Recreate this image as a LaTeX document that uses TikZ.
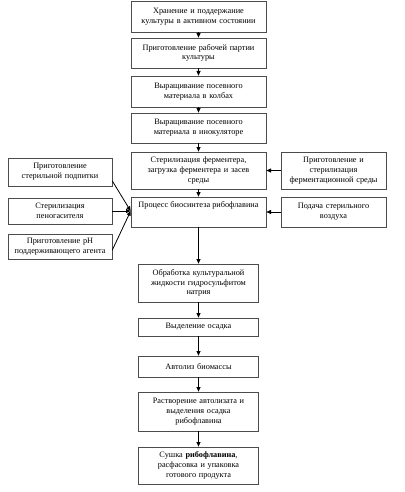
\documentclass[tikz,border=0pt]{standalone}
\usepackage{fontspec}
\setmainfont{Liberation Serif}
\usetikzlibrary{arrows.meta,calc}

\begin{document}
\begin{tikzpicture}[x=0.75pt,y=-0.75pt,
  box/.style 2 args={draw=black!70, line width=0.5pt, align=center,
    minimum width=#1*0.75pt, minimum height=#2*0.75pt, text width=#1*0.75pt-4pt,
    inner xsep=1pt, inner ysep=1pt, font=\fontsize{6.2}{7.3}\selectfont},
  arr/.style={-{Triangle[length=3.5pt,width=3pt]}, line width=0.6pt}]
\useasboundingbox (0,0) rectangle (404,492);

%Nodes
\node[box={135}{31}] (nodeKeep) at (198.5,16.5) {Хранение и поддержание\\культуры в активном состоянии};

\node[box={135}{30}] (nodeWork) at (198.5,53) {Приготовление рабочей партии\\культуры};

\node[box={135}{31}] (nodeFlask) at (198.5,91.5) {Выращивание посевного\\материала в колбах};

\node[box={135}{30}] (nodeInoc) at (198.5,128) {Выращивание посевного\\материала в инокуляторе};

\node[box={135}{37}] (nodeSteril) at (198.5,170.5) {Стерилизация ферментера,\\загрузка ферментера и засев\\среды};
\node[box={105}{37}] (nodeMedium) at (333.5,170.5) {Приготовление и\\стерилизация\\ферментационной среды};
\node[box={104}{28}] (nodeFeed) at (60,172) {Приготовление\\стерильной подпитки};

\node[box={135}{0}, text width=, minimum width=101.25pt, inner ysep=2pt, text height=5.6pt, text depth=12.9pt] (nodeBio) at (198.5,212) {Процесс биосинтеза рибофлавина};
\node[box={105}{30}] (nodeAir) at (333.5,212) {Подача стерильного\\воздуха};
\node[box={104}{26}] (nodeFoam) at (60,211) {Стерилизация\\пеногасителя};

\node[box={104}{25}] (nodepH) at (60,246.5) {Приготовление pH\\поддерживающего агента};

\node[box={120}{38}] (nodeTreat) at (198.5,283) {Обработка культуральной\\жидкости гидросульфитом\\натрия};

\node[box={120}{18}] (nodeSed) at (198.5,327) {Выделение осадка};

\node[box={120}{21}] (nodeAuto) at (198.5,366.5) {Автолиз биомассы};

\node[box={120}{39}] (nodeDiss) at (198.5,411.5) {Растворение автолизата и\\выделения осадка\\рибофлавина};

\node[box={120}{37}] (nodeDry) at (198.5,465.5) {Сушка \textbf{рибофлавина},\\расфасовка и упаковка\\готового продукта};

\coordinate (merge) at (nodeBio.west |- nodeFoam.east);

%Lines
\draw[arr] (nodeKeep) edge (nodeWork);
\draw[arr] (nodeWork) edge (nodeFlask);
\draw[arr] (nodeFlask) edge (nodeInoc);
\draw[arr] (nodeInoc) edge (nodeSteril);
\draw[arr] (nodeSteril) edge (nodeBio);

\draw[arr] (nodeMedium) edge (nodeSteril);
\draw[arr] (nodeAir) edge (nodeBio);

\draw[arr] ($(nodeFeed.east)+(0,9)$) -- (merge);
\draw[arr] (nodeFoam.east) -- (merge);
\draw[arr] ($(nodepH.east)+(0,3.5)$) -- (merge);

\draw[arr] (nodeBio) edge (nodeTreat);
\draw[arr] (nodeTreat) edge (nodeSed);
\draw[arr] (nodeSed) edge (nodeAuto);
\draw[arr] (nodeAuto) edge (nodeDiss);
\draw[arr] (nodeDiss) edge (nodeDry);
\end{tikzpicture}
\end{document}
